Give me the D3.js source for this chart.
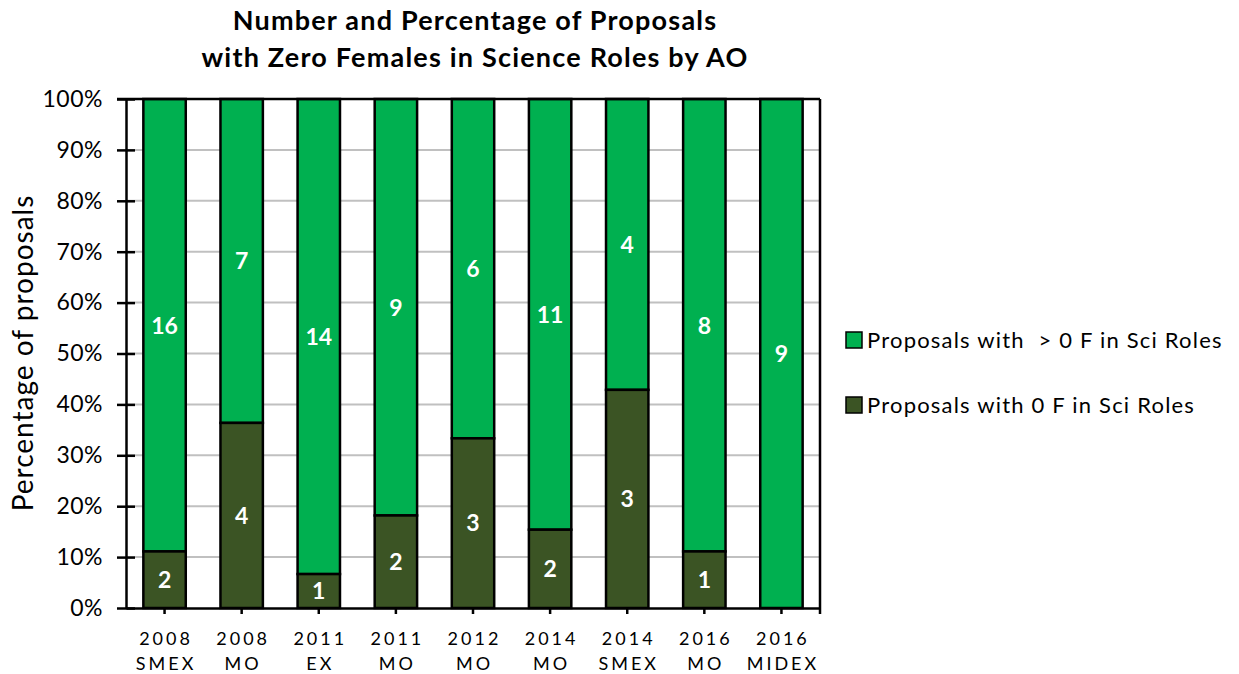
<!DOCTYPE html>
<html><head><meta charset="utf-8">
<script src="https://cdn.jsdelivr.net/npm/d3@7"></script>
<style>body{margin:0;background:#fff}</style>
</head><body>
<svg id="c" width="1239" height="674"></svg>
<script>
const categories = [["2008","SMEX"],["2008","MO"],["2011","EX"],["2011","MO"],["2012","MO"],["2014","MO"],["2014","SMEX"],["2016","MO"],["2016","MIDEX"]];
const zeroF = [2,4,1,2,3,2,3,1,0];
const moreF = [16,7,14,9,6,11,4,8,9];
const yTicks = [0,10,20,30,40,50,60,70,80,90,100];
const seriesNames = ["Proposals with  > 0 F in Sci Roles","Proposals with 0 F in Sci Roles"];
const colors = {more:"#00B050", zero:"#3B5424"};
const FONT = "Lato, 'Open Sans', sans-serif";

const svg = d3.select("#c");
const m = {l:126, r:820, t:99, b:608};
const x = d3.scaleBand().domain(d3.range(categories.length)).range([m.l,m.r]).paddingInner(0.45).paddingOuter(0.225);
const y = d3.scaleLinear().domain([0,100]).range([m.b,m.t]);

// gridlines
svg.append("g").selectAll("line").data(yTicks.filter(d=>d>0)).join("line")
  .attr("x1",m.l).attr("x2",m.r).attr("y1",d=>y(d)).attr("y2",d=>y(d))
  .attr("stroke","#c0c0c0").attr("stroke-width",2);

const data = categories.map((c,i)=>{
  const tot = zeroF[i]+moreF[i];
  return {i, z:zeroF[i], mo:moreF[i], zp:zeroF[i]/tot*100};
});

const g = svg.append("g");
data.forEach(d=>{
  g.append("rect").attr("x",x(d.i)).attr("width",x.bandwidth())
    .attr("y",y(100)).attr("height",y(d.zp)-y(100))
    .attr("fill",colors.more).attr("stroke","#000").attr("stroke-width",2.5);
  if(d.z>0){
    g.append("rect").attr("x",x(d.i)).attr("width",x.bandwidth())
      .attr("y",y(d.zp)).attr("height",y(0)-y(d.zp))
      .attr("fill",colors.zero).attr("stroke","#000").attr("stroke-width",2.5);
  }
});
data.forEach(d=>{
  const cx = x(d.i)+x.bandwidth()/2;
  g.append("text").attr("x",cx).attr("y",y((100+d.zp)/2)).attr("dy","0.36em")
    .attr("text-anchor","middle").attr("fill","#fff").attr("font-weight","bold")
    .attr("font-family",FONT).attr("font-size",23).text(d.mo);
  if(d.z>0){
    g.append("text").attr("x",cx).attr("y",y(d.zp/2)).attr("dy","0.36em")
      .attr("text-anchor","middle").attr("fill","#fff").attr("font-weight","bold")
      .attr("font-family",FONT).attr("font-size",23).text(d.z);
  }
});

// frame
svg.append("line").attr("x1",117).attr("x2",m.r).attr("y1",m.t).attr("y2",m.t).attr("stroke","#000").attr("stroke-width",2.5);
svg.append("line").attr("x1",m.r).attr("x2",m.r).attr("y1",m.t).attr("y2",m.b+6).attr("stroke","#000").attr("stroke-width",2.5);

// y axis
const ya = svg.append("g").attr("transform",`translate(${m.l},0)`)
  .call(d3.axisLeft(y).tickValues(yTicks).tickFormat(d=>d+"%").tickSizeInner(9).tickSizeOuter(0));
ya.select(".domain").attr("stroke","#000").attr("stroke-width",2.5);
ya.selectAll(".tick line").attr("stroke","#000").attr("stroke-width",2.5).attr("x1",9);
ya.selectAll(".tick text").attr("font-family",FONT).attr("font-size",23).attr("letter-spacing","0.5px").attr("fill","#000").attr("x",-23);

// x axis
const xa = svg.append("g").attr("transform",`translate(0,${m.b})`)
  .call(d3.axisBottom(x).tickSizeInner(6).tickSizeOuter(0).tickFormat(""));
xa.select(".domain").attr("stroke","#000").attr("stroke-width",2.5);
xa.selectAll(".tick line").attr("stroke","#000").attr("stroke-width",2.5);
const xl = svg.append("g");
categories.forEach((c,i)=>{
  const cx = x(i)+x.bandwidth()/2+1.5;
  const t = xl.append("text").attr("text-anchor","middle")
    .attr("font-family",FONT).attr("font-size",18).attr("letter-spacing","3px").attr("fill","#000");
  t.append("tspan").attr("x",cx).attr("y",645).text(c[0]);
  t.append("tspan").attr("x",cx).attr("y",670).text(c[1]);
});

// y title
svg.append("text").attr("transform","translate(33,353) rotate(-90)").attr("text-anchor","middle")
  .attr("font-family",FONT).attr("font-size",28).attr("letter-spacing","1px").attr("fill","#000").text("Percentage of proposals");

// title
svg.append("text").attr("x",475).attr("y",30).attr("text-anchor","middle").attr("font-family",FONT)
  .attr("font-weight","bold").attr("font-size",27).attr("letter-spacing","1.2px").attr("fill","#000").text("Number and Percentage of Proposals");
svg.append("text").attr("x",475).attr("y",67).attr("text-anchor","middle").attr("font-family",FONT)
  .attr("font-weight","bold").attr("font-size",27).attr("letter-spacing","1.2px").attr("fill","#000").text("with Zero Females in Science Roles by AO");

// legend
const lg = svg.append("g");
[[seriesNames[0],colors.more,340],[seriesNames[1],colors.zero,405]].forEach(([n,c,yy])=>{
  lg.append("rect").attr("x",846).attr("y",yy-8).attr("width",16).attr("height",16)
    .attr("fill",c).attr("stroke","#000").attr("stroke-width",1.5);
  lg.append("text").attr("x",867).attr("y",yy).attr("dy","0.36em").attr("font-family",FONT)
    .attr("font-size",22).attr("letter-spacing","1.2px").attr("fill","#000").attr("xml:space","preserve").text(n);
});
</script>
</body></html>
